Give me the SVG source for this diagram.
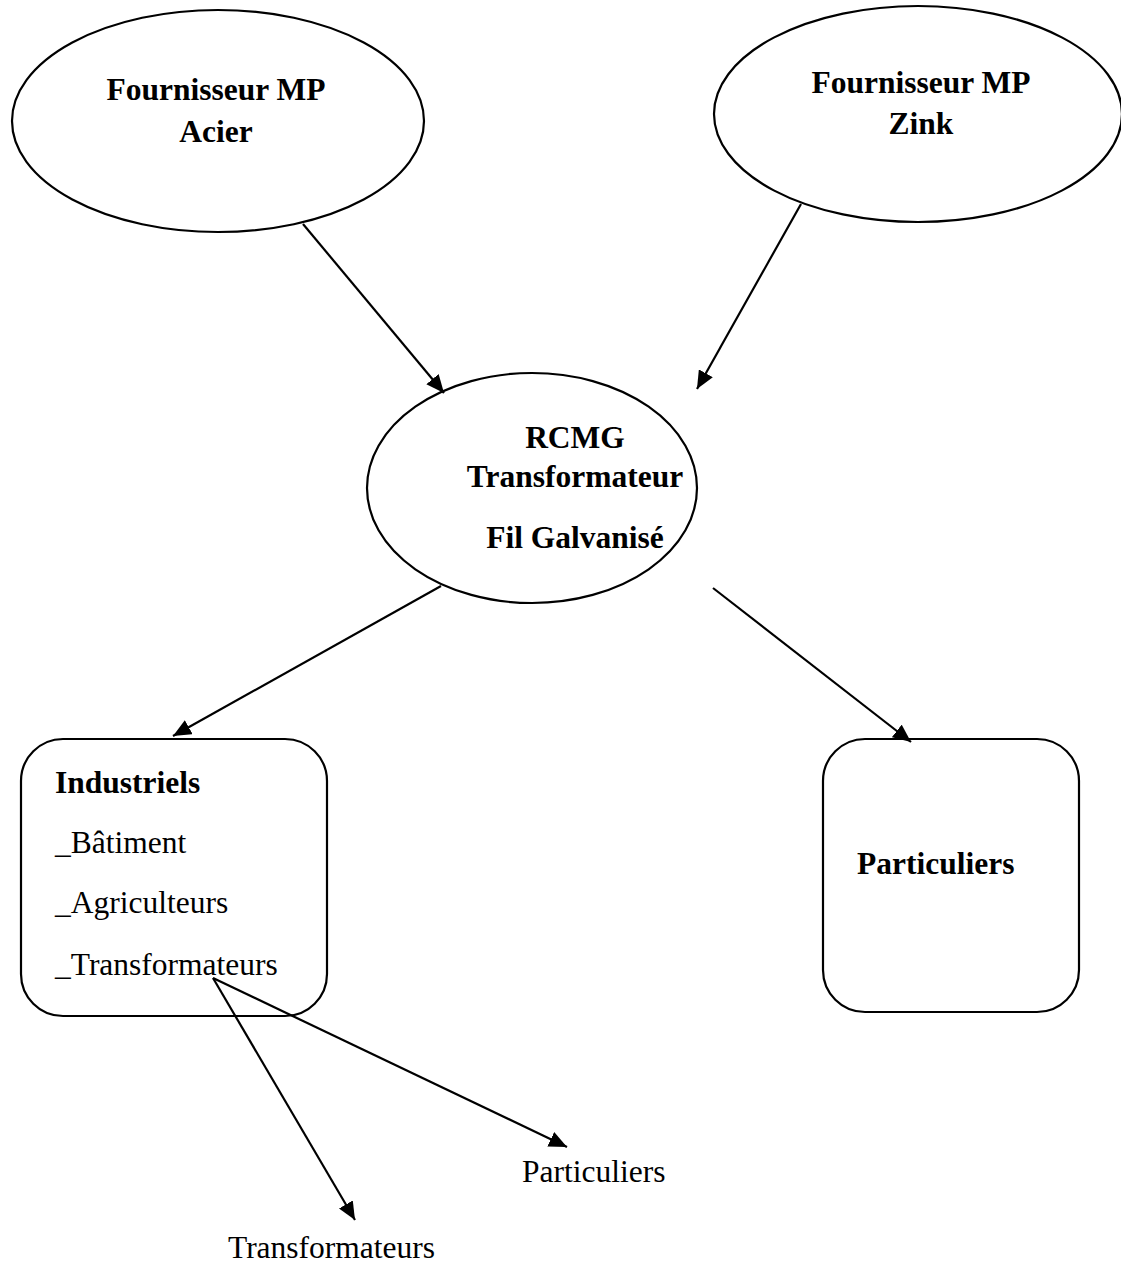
<svg xmlns="http://www.w3.org/2000/svg" width="1121" height="1265" viewBox="0 0 1121 1265">
  <style>
    .shape { fill: #ffffff; stroke: #000000; stroke-width: 2.2; }
    .edge { fill: none; stroke: #000000; stroke-width: 2.2; marker-end: url(#arrow); }
    .b { font-family: "Liberation Serif", "Times New Roman", serif; font-weight: bold; font-size: 31.5px; fill: #000000; }
    .r { font-family: "Liberation Serif", "Times New Roman", serif; font-size: 31.5px; fill: #000000; }
    .c { text-anchor: middle; }
  </style>
  <defs>
    <marker id="arrow" viewBox="0 0 18 16" refX="18" refY="8" markerWidth="18" markerHeight="16" markerUnits="userSpaceOnUse" orient="auto">
      <path d="M0,0 L18,8 L0,16 z" fill="#000000"/>
    </marker>
  </defs>
  <rect width="1121" height="1265" fill="#ffffff"/>

  <g id="fournisseur-acier">
    <ellipse class="shape" cx="218" cy="121" rx="206" ry="111"/>
    <text class="b c" x="216" y="100">Fournisseur MP</text>
    <text class="b c" x="216" y="142">Acier</text>
  </g>

  <g id="fournisseur-zink">
    <ellipse class="shape" cx="918" cy="114" rx="204" ry="108"/>
    <text class="b c" x="921" y="93">Fournisseur MP</text>
    <text class="b c" x="921" y="134">Zink</text>
  </g>

  <g id="rcmg">
    <ellipse class="shape" cx="532" cy="488" rx="165" ry="115"/>
    <text class="b c" x="575" y="448">RCMG</text>
    <text class="b c" x="575" y="487">Transformateur</text>
    <text class="b c" x="575" y="548">Fil Galvanisé</text>
  </g>

  <g id="industriels">
    <rect class="shape" x="21" y="739" width="306" height="277" rx="42" ry="42"/>
    <text class="b" x="55" y="793">Industriels</text>
    <text class="r" x="55" y="853">_Bâtiment</text>
    <text class="r" x="55" y="913">_Agriculteurs</text>
    <text class="r" x="55" y="975">_Transformateurs</text>
  </g>

  <g id="particuliers">
    <rect class="shape" x="823" y="739" width="256" height="273" rx="42" ry="42"/>
    <text class="b" x="857" y="874">Particuliers</text>
  </g>

  <g id="sous-particuliers">
    <text class="r" x="522" y="1182">Particuliers</text>
  </g>

  <g id="sous-transformateurs">
    <text class="r" x="228" y="1258">Transformateurs</text>
  </g>

  <g id="connectors">
    <line class="edge" x1="303" y1="224" x2="444" y2="393"/>
    <line class="edge" x1="801" y1="204" x2="697" y2="389"/>
    <line class="edge" x1="441" y1="586" x2="173" y2="736"/>
    <line class="edge" x1="713" y1="588" x2="911" y2="742"/>
    <line class="edge" x1="213" y1="978" x2="355" y2="1220"/>
    <line class="edge" x1="213" y1="978" x2="567" y2="1147"/>
  </g>
</svg>
